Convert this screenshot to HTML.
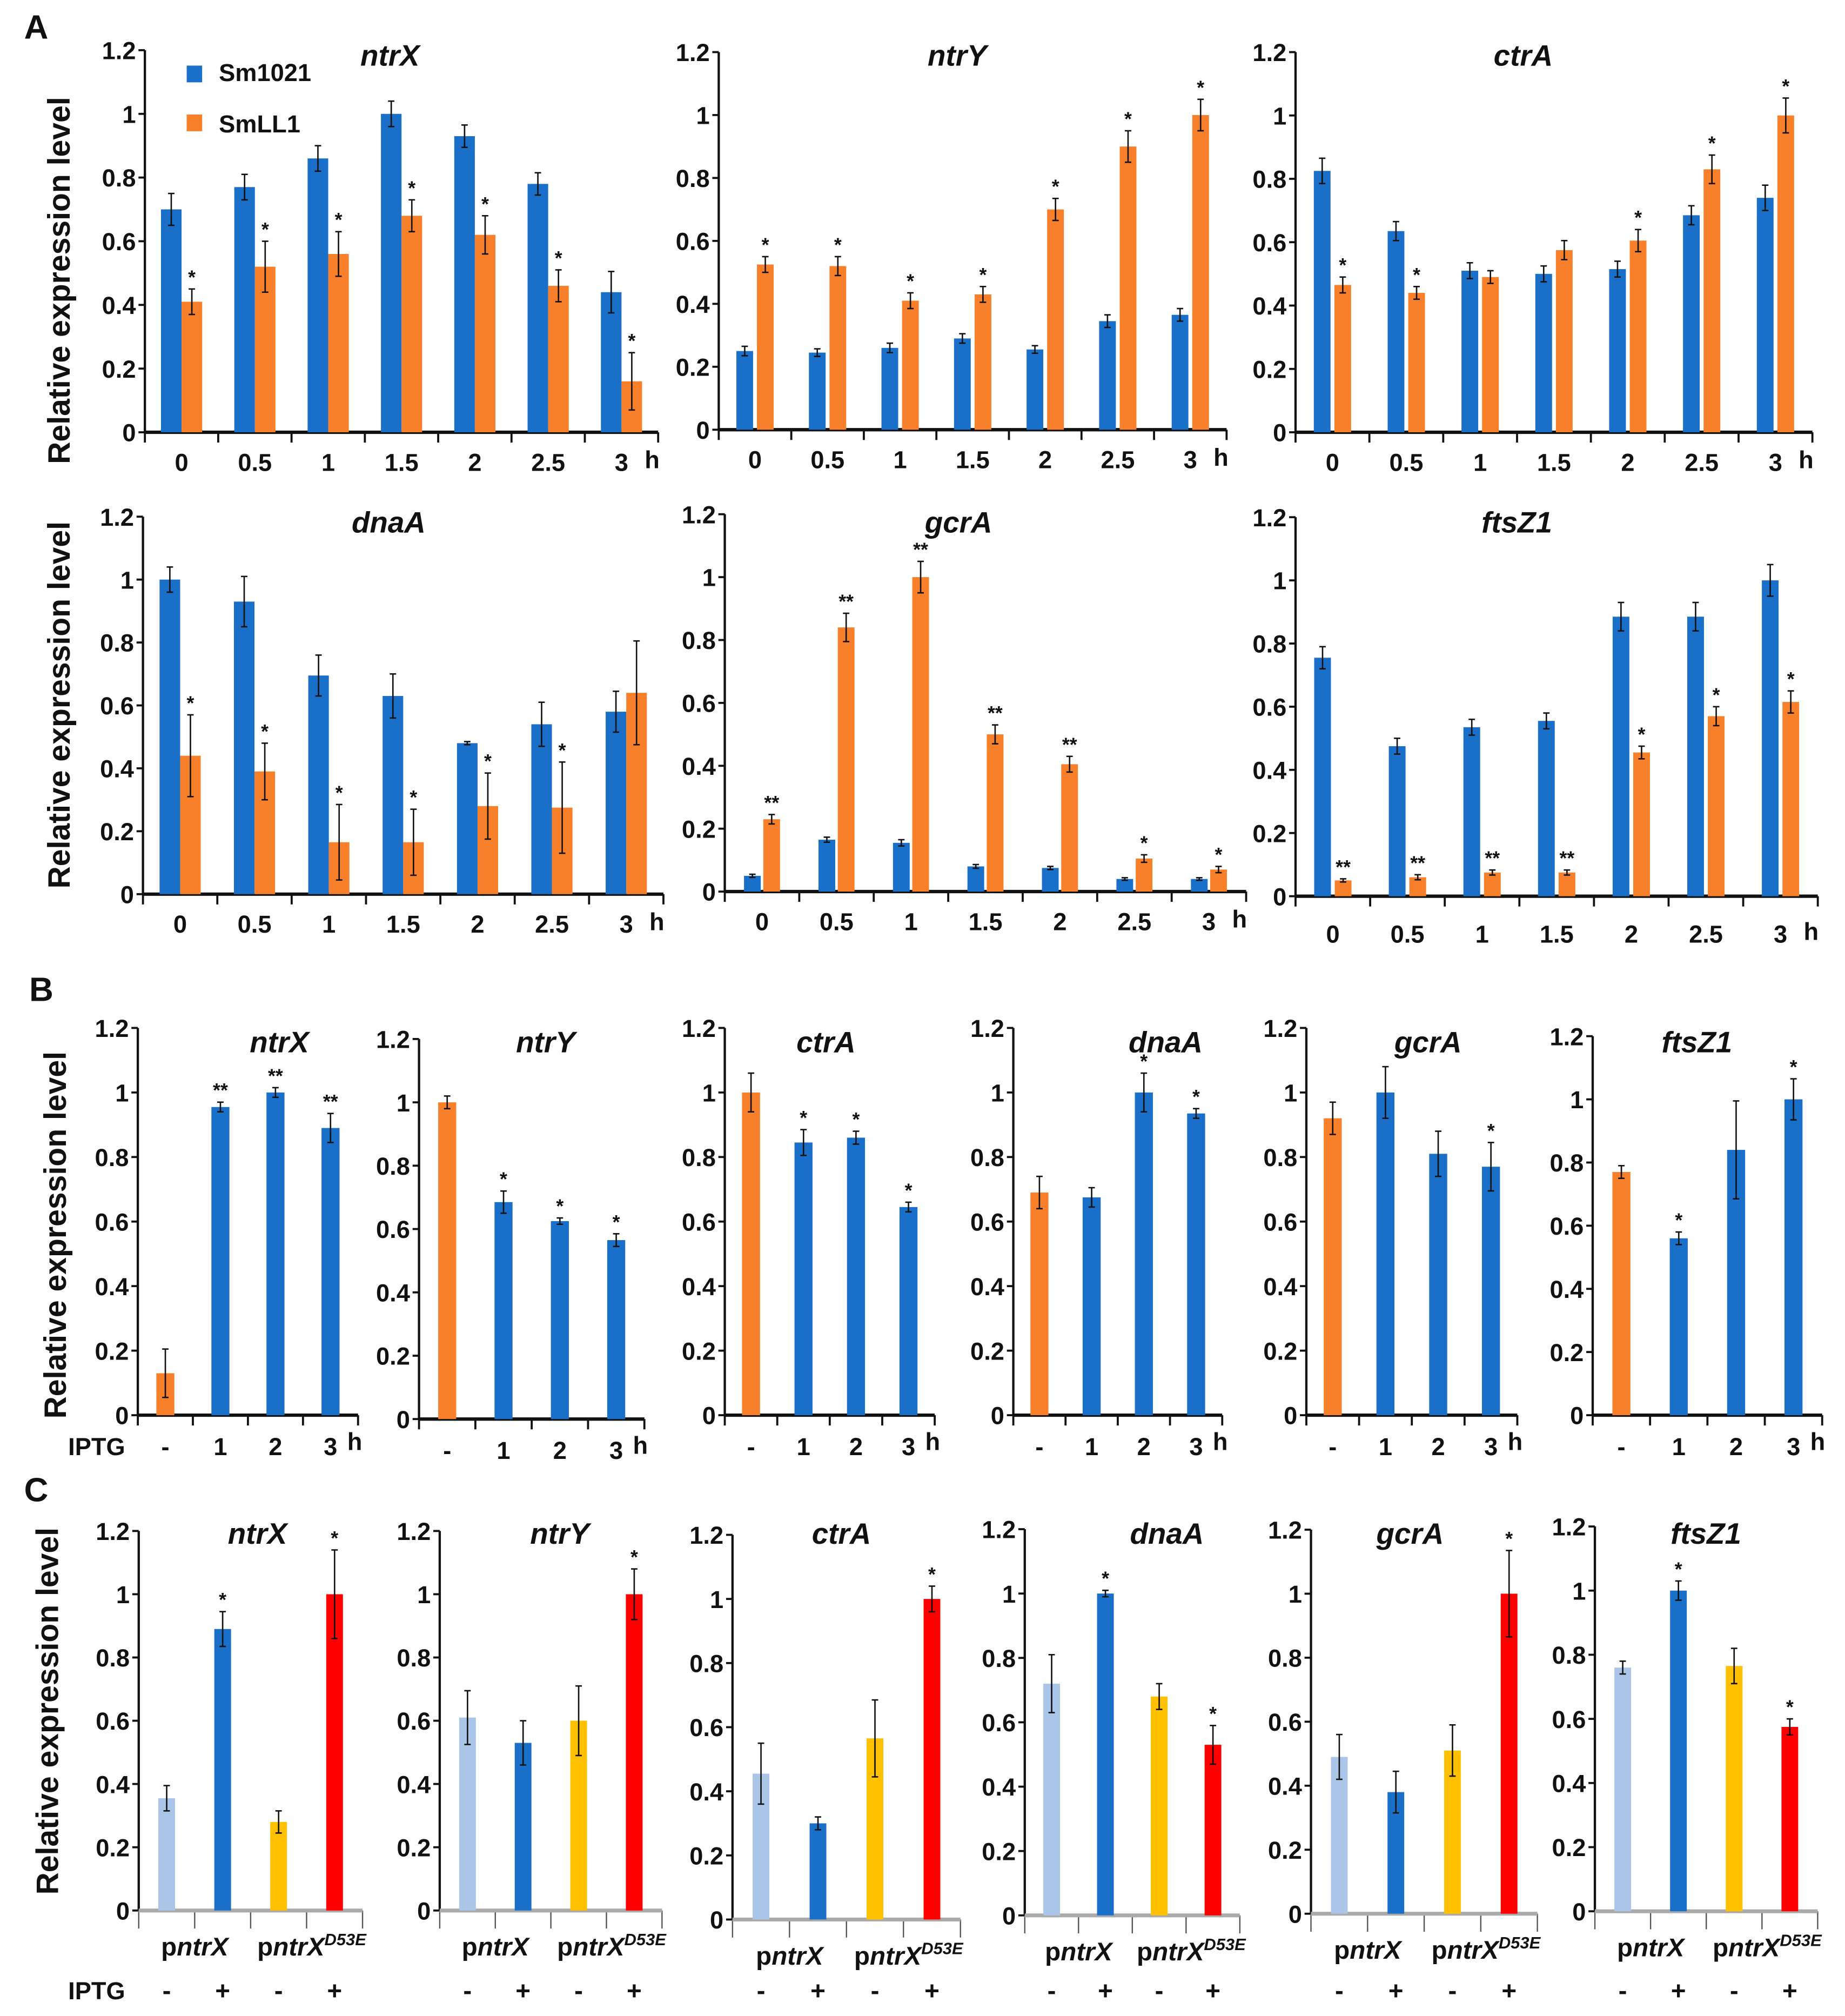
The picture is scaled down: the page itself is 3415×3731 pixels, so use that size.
<!DOCTYPE html>
<html><head><meta charset="utf-8"><style>
html,body{margin:0;padding:0;background:#fff;}
svg{display:block;}
text{font-family:"Liberation Sans",Arial,sans-serif;font-weight:bold;fill:#111;}
</style></head><body>
<svg id="fig" xmlns="http://www.w3.org/2000/svg" width="3415" height="3731" viewBox="0 0 1434 1567"></svg>
<script>
// ---------- data ----------
const timeCats = ['0','0.5','1','1.5','2','2.5','3'];
const bCats = ['-','1','2','3'];
const cSigns = ['-','+','-','+'];
const yTicks = [0,0.2,0.4,0.6,0.8,1,1.2];
const yTickLabels = ['0','0.2','0.4','0.6','0.8','1','1.2'];

// Panel A
const aNtrXWt = [0.70,0.77,0.86,1.00,0.93,0.78,0.44];
const aNtrXWtErr = [0.05,0.04,0.04,0.04,0.035,0.035,0.065];
const aNtrXMut = [0.41,0.52,0.56,0.68,0.62,0.46,0.16];
const aNtrXMutErr = [0.04,0.08,0.07,0.05,0.06,0.05,0.09];
const aNtrXStars = ['*','*','*','*','*','*','*'];

const aNtrYWt = [0.25,0.245,0.26,0.29,0.255,0.345,0.365];
const aNtrYWtErr = [0.015,0.012,0.015,0.015,0.012,0.02,0.02];
const aNtrYMut = [0.525,0.52,0.41,0.43,0.70,0.90,1.00];
const aNtrYMutErr = [0.025,0.03,0.025,0.025,0.035,0.05,0.05];
const aNtrYStars = ['*','*','*','*','*','*','*'];

const aCtrAWt = [0.825,0.635,0.51,0.50,0.515,0.685,0.74];
const aCtrAWtErr = [0.04,0.03,0.025,0.025,0.025,0.03,0.04];
const aCtrAMut = [0.465,0.44,0.49,0.575,0.605,0.83,1.00];
const aCtrAMutErr = [0.025,0.02,0.02,0.03,0.035,0.045,0.055];
const aCtrAStars = ['*','*','','','*','*','*'];

const aDnaAWt = [1.00,0.93,0.695,0.63,0.48,0.54,0.58];
const aDnaAWtErr = [0.04,0.08,0.065,0.07,0.005,0.07,0.065];
const aDnaAMut = [0.44,0.39,0.165,0.165,0.28,0.275,0.64];
const aDnaAMutErr = [0.13,0.09,0.12,0.105,0.105,0.145,0.165];
const aDnaAStars = ['*','*','*','*','*','*',''];

const aGcrAWt = [0.05,0.165,0.155,0.08,0.075,0.04,0.04];
const aGcrAWtErr = [0.005,0.008,0.01,0.006,0.005,0.004,0.004];
const aGcrAMut = [0.23,0.84,1.00,0.50,0.405,0.105,0.07];
const aGcrAMutErr = [0.015,0.045,0.05,0.03,0.025,0.012,0.01];
const aGcrAStars = ['**','**','**','**','**','*','*'];

const aFtsZ1Wt = [0.755,0.475,0.535,0.555,0.885,0.885,1.00];
const aFtsZ1WtErr = [0.035,0.025,0.025,0.025,0.045,0.045,0.05];
const aFtsZ1Mut = [0.05,0.06,0.075,0.075,0.455,0.57,0.615];
const aFtsZ1MutErr = [0.005,0.008,0.008,0.008,0.02,0.03,0.035];
const aFtsZ1Stars = ['**','**','**','**','*','*','*'];

// Panel B
const bNtrX = [0.13,0.955,1.00,0.89];   const bNtrXErr = [0.075,0.015,0.015,0.045]; const bNtrXStars = ['','**','**','**'];
const bNtrY = [1.00,0.685,0.625,0.565]; const bNtrYErr = [0.02,0.035,0.01,0.02];    const bNtrYStars = ['','*','*','*'];
const bCtrA = [1.00,0.845,0.86,0.645];  const bCtrAErr = [0.06,0.04,0.02,0.015];    const bCtrAStars = ['','*','*','*'];
const bDnaA = [0.69,0.675,1.00,0.935];  const bDnaAErr = [0.05,0.03,0.06,0.015];    const bDnaAStars = ['','','*','*'];
const bGcrA = [0.92,1.00,0.81,0.77];    const bGcrAErr = [0.05,0.08,0.07,0.075];    const bGcrAStars = ['','','','*'];
const bFtsZ1 = [0.77,0.56,0.84,1.00];   const bFtsZ1Err = [0.02,0.02,0.155,0.065];  const bFtsZ1Stars = ['','*','','*'];

// Panel C
const cNtrX = [0.355,0.89,0.28,1.00];   const cNtrXErr = [0.04,0.055,0.035,0.14];  const cNtrXStars = ['','*','','*'];
const cNtrY = [0.61,0.53,0.60,1.00];    const cNtrYErr = [0.085,0.07,0.11,0.08];   const cNtrYStars = ['','','','*'];
const cCtrA = [0.455,0.30,0.565,1.00];  const cCtrAErr = [0.095,0.02,0.12,0.04];   const cCtrAStars = ['','','','*'];
const cDnaA = [0.72,1.00,0.68,0.53];    const cDnaAErr = [0.09,0.01,0.04,0.06];    const cDnaAStars = ['','*','','*'];
const cGcrA = [0.49,0.38,0.51,1.00];    const cGcrAErr = [0.07,0.065,0.08,0.135];  const cGcrAStars = ['','','','*'];
const cFtsZ1 = [0.76,1.00,0.765,0.575]; const cFtsZ1Err = [0.02,0.03,0.055,0.025]; const cFtsZ1Stars = ['','*','','*'];

// ---------- drawing ----------
const NS = 'http://www.w3.org/2000/svg';
const svg = document.getElementById('fig');
const BLUE = '#1a70c9', ORANGE = '#f8802a', LBLUE = '#aac5e8', GOLD = '#ffc000', RED = '#ff0000';

function mk(tag, attrs, parent) {
  const e = document.createElementNS(NS, tag);
  for (const k in attrs) e.setAttribute(k, attrs[k]);
  (parent || svg).appendChild(e);
  return e;
}
function txt(x, y, s, size, parent, anchor, italic) {
  const t = mk('text', {x: x, y: y, 'font-size': size, 'text-anchor': anchor || 'middle'}, parent);
  if (italic) t.setAttribute('font-style', 'italic');
  t.textContent = s;
  return t;
}

function axes(g, L) {
  const ys = v => L.y0 - v / 1.2 * (L.y0 - L.yTop);
  const n = L.n;
  const xEnd = L.x0 + L.sp * n;
  yTicks.forEach((v, i) => {
    const y = ys(v);
    mk('line', {x1: L.x0 - 5, x2: L.x0, y1: y, y2: y, stroke: '#111', 'stroke-width': 1.6}, g);
    const t = txt(L.x0 - 7, y + 7, yTickLabels[i], 19, g, 'end');
    
    
  });
  const ya = mk('line', {x1: L.x0, x2: L.x0, y1: L.yTop, y2: L.y0, stroke: '#111', 'stroke-width': 1.8}, g);
  
  
  for (let k = 0; k <= n; k++) {
    const x = L.x0 + k * L.sp;
    mk('line', {x1: x, x2: x, y1: L.y0, y2: L.y0 + (L.gray ? 14 : 8), stroke: L.gray ? '#555' : '#111', 'stroke-width': L.gray ? 1 : 1.6}, g);
  }
  const xa = mk('line', {x1: L.x0, x2: xEnd, y1: L.y0, y2: L.y0, stroke: L.gray ? '#aaa' : '#111', 'stroke-width': L.gray ? 3 : 2.6}, g);
  
  
  const tt = txt(L.tx, L.ty, L.title, 23, g, 'middle', true);
  
  
  return ys;
}

function errStar(g, x, ys, v, e, star) {
  const c = 2.5;
  mk('line', {x1: x, x2: x, y1: ys(v - e), y2: ys(v + e), stroke: '#111', 'stroke-width': 1.1}, g);
  mk('line', {x1: x - c, x2: x + c, y1: ys(v + e), y2: ys(v + e), stroke: '#111', 'stroke-width': 1.1}, g);
  mk('line', {x1: x - c, x2: x + c, y1: ys(v - e), y2: ys(v - e), stroke: '#111', 'stroke-width': 1.1}, g);
  if (star) {
    const s = txt(x, ys(v + e) - 4, star, 15, g, 'middle');
    
    
  }
}

function panelA(name, L, wt, wtE, mut, mutE, stars) {
  const g = mk('g', {});
  
  
  L.n = timeCats.length;
  const ys = axes(g, L);
  timeCats.forEach((c, i) => {
    const cx = L.x0 + (i + 0.5) * L.sp;
    const bx = cx - L.gap / 2 - L.bw, ox = cx + L.gap / 2;
    const b = mk('rect', {x: bx, y: ys(wt[i]), width: L.bw, height: L.y0 - ys(wt[i]), fill: BLUE}, g);
    
    
    const o = mk('rect', {x: ox, y: ys(mut[i]), width: L.bw, height: L.y0 - ys(mut[i]), fill: ORANGE}, g);
    
    
    errStar(g, bx + L.bw / 2, ys, wt[i], wtE[i], '');
    errStar(g, ox + L.bw / 2, ys, mut[i], mutE[i], stars[i]);
    const t = txt(cx, L.y0 + L.lab, c, 19, g, 'middle');
    
    
  });
  const h = txt(L.x0 + 6.5 * L.sp + 18, L.y0 + L.lab - 2, 'h', 19, g, 'start');
  
  
}

function panelB(name, L, vals, errs, stars, iptg) {
  const g = mk('g', {});
  
  
  L.n = bCats.length;
  const ys = axes(g, L);
  bCats.forEach((c, i) => {
    const cx = L.x0 + (i + 0.5) * L.sp;
    const r = mk('rect', {x: cx - 7, y: ys(vals[i]), width: 14, height: L.y0 - ys(vals[i]), fill: i === 0 ? ORANGE : BLUE}, g);
    
    
    errStar(g, cx, ys, vals[i], errs[i], stars[i]);
    const t = txt(cx, L.y0 + 31, c, 19, g, 'middle');
    
    
  });
  const h = txt(L.x0 + 3.5 * L.sp + 13, L.y0 + 27, 'h', 19, g, 'start');
  
  
  if (iptg) {
    const t = txt(75, L.y0 + 31, 'IPTG', 19, g, 'middle');
    
    
  }
}

function groupLabel(g, x, y, sup) {
  const t = mk('text', {x: x, y: y, 'font-size': 20, 'text-anchor': 'middle'}, g);
  
  
  const a = mk('tspan', {}, t); a.textContent = 'p';
  const b = mk('tspan', {'font-style': 'italic'}, t); b.textContent = 'ntrX';
  if (sup) {
    const c = mk('tspan', {'font-style': 'italic', 'font-size': 13, dy: -8}, t); c.textContent = 'D53E';
  }
}

function panelC(name, L, vals, errs, stars, iptg) {
  const g = mk('g', {});
  
  
  L.n = 4; L.gray = true;
  const ys = axes(g, L);
  const cols = [LBLUE, BLUE, GOLD, RED];
  const names = ['pntrx-minus', 'pntrx-plus', 'd53e-minus', 'd53e-plus'];
  vals.forEach((v, i) => {
    const cx = L.x0 + (i + 0.5) * L.sp;
    const r = mk('rect', {x: cx - 6.5, y: ys(v), width: 13, height: L.y0 - ys(v), fill: cols[i]}, g);
    
    
    errStar(g, cx, ys, v, errs[i], stars[i]);
    const s = txt(cx, 1554, cSigns[i], 20, g, 'middle');
    
    
  });
  groupLabel(g, L.x0 + L.sp, L.y0 + 35, false);
  groupLabel(g, L.x0 + 3 * L.sp + 4, L.y0 + 35, true);
  if (iptg) {
    const t = txt(75, 1554, 'IPTG', 19, g, 'middle');
    
    
  }
}

// Panel letters & y-axis titles
[['A', 28, 30], ['B', 32, 778], ['C', 28, 1167]].forEach(p => {
  const t = txt(p[1], p[2], p[0], 26, svg, 'middle');
  
  
});
[[54, 218], [54, 548], [51, 960], [45, 1330]].forEach(p => {
  const t = txt(0, 0, 'Relative expression level', 24, svg, 'middle');
  t.setAttribute('transform', 'translate(' + p[0] + ',' + p[1] + ') rotate(-90)');
  
  
});

// Panel A
panelA('chart-a-ntrx', {x0: 112.5, yTop: 39, y0: 336, sp: 57, bw: 16, gap: 0, tx: 303, ty: 51, title: 'ntrX', lab: 30}, aNtrXWt, aNtrXWtErr, aNtrXMut, aNtrXMutErr, aNtrXStars);
panelA('chart-a-ntry', {x0: 558.6, yTop: 40.5, y0: 334, sp: 56.4, bw: 13, gap: 3, tx: 744, ty: 51, title: 'ntrY', lab: 30}, aNtrYWt, aNtrYWtErr, aNtrYMut, aNtrYMutErr, aNtrYStars);
panelA('chart-a-ctra', {x0: 1007, yTop: 40.5, y0: 336, sp: 57.4, bw: 13, gap: 3, tx: 1184, ty: 51, title: 'ctrA', lab: 30}, aCtrAWt, aCtrAWtErr, aCtrAMut, aCtrAMutErr, aCtrAStars);
panelA('chart-a-dnaa', {x0: 111, yTop: 401.6, y0: 695, sp: 57.8, bw: 16, gap: 0, tx: 302, ty: 414, title: 'dnaA', lab: 30}, aDnaAWt, aDnaAWtErr, aDnaAMut, aDnaAMutErr, aDnaAStars);
panelA('chart-a-gcra', {x0: 563.3, yTop: 399.7, y0: 693, sp: 57.9, bw: 13, gap: 2, tx: 745, ty: 414, title: 'gcrA', lab: 30}, aGcrAWt, aGcrAWtErr, aGcrAMut, aGcrAMutErr, aGcrAStars);
panelA('chart-a-ftsz1', {x0: 1007, yTop: 402, y0: 696.6, sp: 58, bw: 13, gap: 3, tx: 1179, ty: 414, title: 'ftsZ1', lab: 36}, aFtsZ1Wt, aFtsZ1WtErr, aFtsZ1Mut, aFtsZ1MutErr, aFtsZ1Stars);

// Legend
(function () {
  const g = mk('g', {});
  
  
  const r1 = mk('rect', {x: 145, y: 51, width: 12, height: 13, fill: BLUE}, g);
  
  
  const t1 = txt(170, 63, 'Sm1021', 19, g, 'start');
  
  
  const r2 = mk('rect', {x: 145, y: 89, width: 12, height: 13, fill: ORANGE}, g);
  
  
  const t2 = txt(170, 103, 'SmLL1', 19, g, 'start');
  
  
})();

// Panel B
panelB('chart-b-ntrx', {x0: 107, yTop: 799, y0: 1100, sp: 42.8, tx: 217, ty: 818, title: 'ntrX'}, bNtrX, bNtrXErr, bNtrXStars, true);
panelB('chart-b-ntry', {x0: 325.6, yTop: 807.6, y0: 1103, sp: 43.8, tx: 424, ty: 818, title: 'ntrY'}, bNtrY, bNtrYErr, bNtrYStars, false);
panelB('chart-b-ctra', {x0: 563.3, yTop: 799, y0: 1100, sp: 40.8, tx: 642, ty: 818, title: 'ctrA'}, bCtrA, bCtrAErr, bCtrAStars, false);
panelB('chart-b-dnaa', {x0: 787.6, yTop: 799, y0: 1100, sp: 40.6, tx: 906, ty: 818, title: 'dnaA'}, bDnaA, bDnaAErr, bDnaAStars, false);
panelB('chart-b-gcra', {x0: 1015.4, yTop: 799, y0: 1100, sp: 41, tx: 1110, ty: 818, title: 'gcrA'}, bGcrA, bGcrAErr, bGcrAStars, false);
panelB('chart-b-ftsz1', {x0: 1238, yTop: 805.4, y0: 1100, sp: 44.6, tx: 1319, ty: 818, title: 'ftsZ1'}, bFtsZ1, bFtsZ1Err, bFtsZ1Stars, false);

// Panel C
panelC('chart-c-ntrx', {x0: 107.7, yTop: 1190, y0: 1485, sp: 43.5, tx: 200, ty: 1200, title: 'ntrX'}, cNtrX, cNtrXErr, cNtrXStars, true);
panelC('chart-c-ntry', {x0: 341.7, yTop: 1190, y0: 1485, sp: 43.2, tx: 435, ty: 1200, title: 'ntrY'}, cNtrY, cNtrYErr, cNtrYStars, false);
panelC('chart-c-ctra', {x0: 569.3, yTop: 1193, y0: 1492, sp: 44.3, tx: 654, ty: 1200, title: 'ctrA'}, cCtrA, cCtrAErr, cCtrAStars, false);
panelC('chart-c-dnaa', {x0: 796.5, yTop: 1188.6, y0: 1488.8, sp: 41.8, tx: 907, ty: 1200, title: 'dnaA'}, cDnaA, cDnaAErr, cDnaAStars, false);
panelC('chart-c-gcra', {x0: 1019, yTop: 1189, y0: 1487.5, sp: 44, tx: 1096, ty: 1200, title: 'gcrA'}, cGcrA, cGcrAErr, cGcrAStars, false);
panelC('chart-c-ftsz1', {x0: 1239.7, yTop: 1186.5, y0: 1485.6, sp: 43.3, tx: 1326, ty: 1200, title: 'ftsZ1'}, cFtsZ1, cFtsZ1Err, cFtsZ1Stars, false);
</script>
</body></html>
